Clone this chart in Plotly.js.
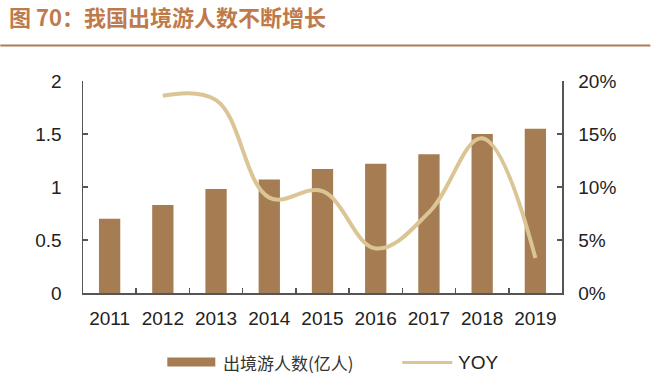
<!DOCTYPE html>
<html>
<head>
<meta charset="utf-8">
<script src="https://cdn.plot.ly/plotly-3.0.1.min.js"></script>
<style>html,body{margin:0;padding:0;background:#fff;}#chart{width:655px;height:379px;}</style>
</head>
<body>
<div id="chart"></div>
<script>
const years = ['2011','2012','2013','2014','2015','2016','2017','2018','2019'];
const travelers = [0.70, 0.83, 0.98, 1.07, 1.17, 1.22, 1.31, 1.50, 1.55];
const yoyYears = ['2012','2013','2014','2015','2016','2017','2018','2019'];
const yoy = [0.186, 0.182, 0.090, 0.096, 0.042, 0.076, 0.146, 0.033];
const barName = '出境游人数(亿人)';
const lineName = 'YOY';
const yTicks = [0, 0.5, 1, 1.5, 2];
const y2Ticks = [0, 0.05, 0.10, 0.15, 0.20];
const y2TickText = ['0%', '5%', '10%', '15%', '20%'];

const W = 655, H = 379;
const L = 82.7, R = 561.7, T = 80.7, B = 293.3;
const px = x => (x - L) / (R - L);
const py = y => (B - y) / (B - T);

const barColor = '#a67c52';
const lineColor = '#dcc594';
const axisColor = '#555555';
const tickFont = {family: 'Liberation Sans, Arial, sans-serif', size: 19, color: '#222'};

const traces = [
  {type: 'bar', x: years, y: travelers, name: barName, marker: {color: barColor}, yaxis: 'y', showlegend: false},
  {type: 'scatter', mode: 'lines', x: yoyYears, y: yoy, name: lineName, yaxis: 'y2',
   line: {color: lineColor, width: 4, shape: 'spline', smoothing: 1.1}, showlegend: false}
];

const layout = {
  width: W, height: H,
  margin: {l: L, r: W - R, t: T, b: H - B, pad: 0},
  paper_bgcolor: '#fff', plot_bgcolor: '#fff',
  bargap: 0.6,
  showlegend: false,
  title: {
    text: '<b>图 70：我国出境游人数不断增长</b>',
    font: {family: 'Noto Sans CJK SC, sans-serif', size: 22, color: '#bf7a4a'},
    xref: 'container', yref: 'container', x: 9 / W, xanchor: 'left', y: 1 - 18 / H, yanchor: 'middle'
  },
  xaxis: {
    type: 'category', tickson: 'boundaries', ticks: 'inside', ticklen: 5, tickcolor: axisColor, tickwidth: 1.5,
    showline: true, linecolor: axisColor, linewidth: 1.5, showgrid: false, zeroline: false,
    tickfont: tickFont, ticklabelstandoff: 8
  },
  yaxis: {
    range: [0, 2], tickvals: yTicks, ticktext: yTicks.map(String), ticks: 'inside', ticklen: 5,
    tickcolor: axisColor, tickwidth: 1.5, showline: true, linecolor: axisColor, linewidth: 1.5,
    showgrid: false, zeroline: false, tickfont: tickFont, ticklabelstandoff: 16
  },
  yaxis2: {
    overlaying: 'y', side: 'right', range: [0, 0.2], tickvals: y2Ticks, ticktext: y2TickText,
    ticks: 'inside', ticklen: 5, tickcolor: axisColor, tickwidth: 1.5, showline: true,
    linecolor: axisColor, linewidth: 1.5, showgrid: false, zeroline: false, tickfont: tickFont,
    ticklabelstandoff: 11
  },
  shapes: [
    {type: 'line', xref: 'paper', yref: 'paper', x0: px(0), x1: px(650), y0: py(45), y1: py(45),
     line: {color: '#b07a55', width: 2}},
    {type: 'rect', xref: 'paper', yref: 'paper', x0: px(167), x1: px(215), y0: py(367), y1: py(358),
     fillcolor: barColor, line: {width: 0}},
    {type: 'line', xref: 'paper', yref: 'paper', x0: px(402), x1: px(452), y0: py(363), y1: py(363),
     line: {color: lineColor, width: 3}}
  ],
  annotations: [
    {xref: 'paper', yref: 'paper', x: px(221), y: py(362.5), xanchor: 'left', yanchor: 'middle',
     text: barName, showarrow: false, font: {family: 'Noto Sans CJK SC, sans-serif', size: 17, color: '#333'}},
    {xref: 'paper', yref: 'paper', x: px(456), y: py(362.5), xanchor: 'left', yanchor: 'middle',
     text: lineName, showarrow: false, font: {family: 'Liberation Sans, Arial, sans-serif', size: 19, color: '#222'}}
  ]
};

Plotly.newPlot('chart', traces, layout, {displayModeBar: false, staticPlot: true});
</script>
</body>
</html>
